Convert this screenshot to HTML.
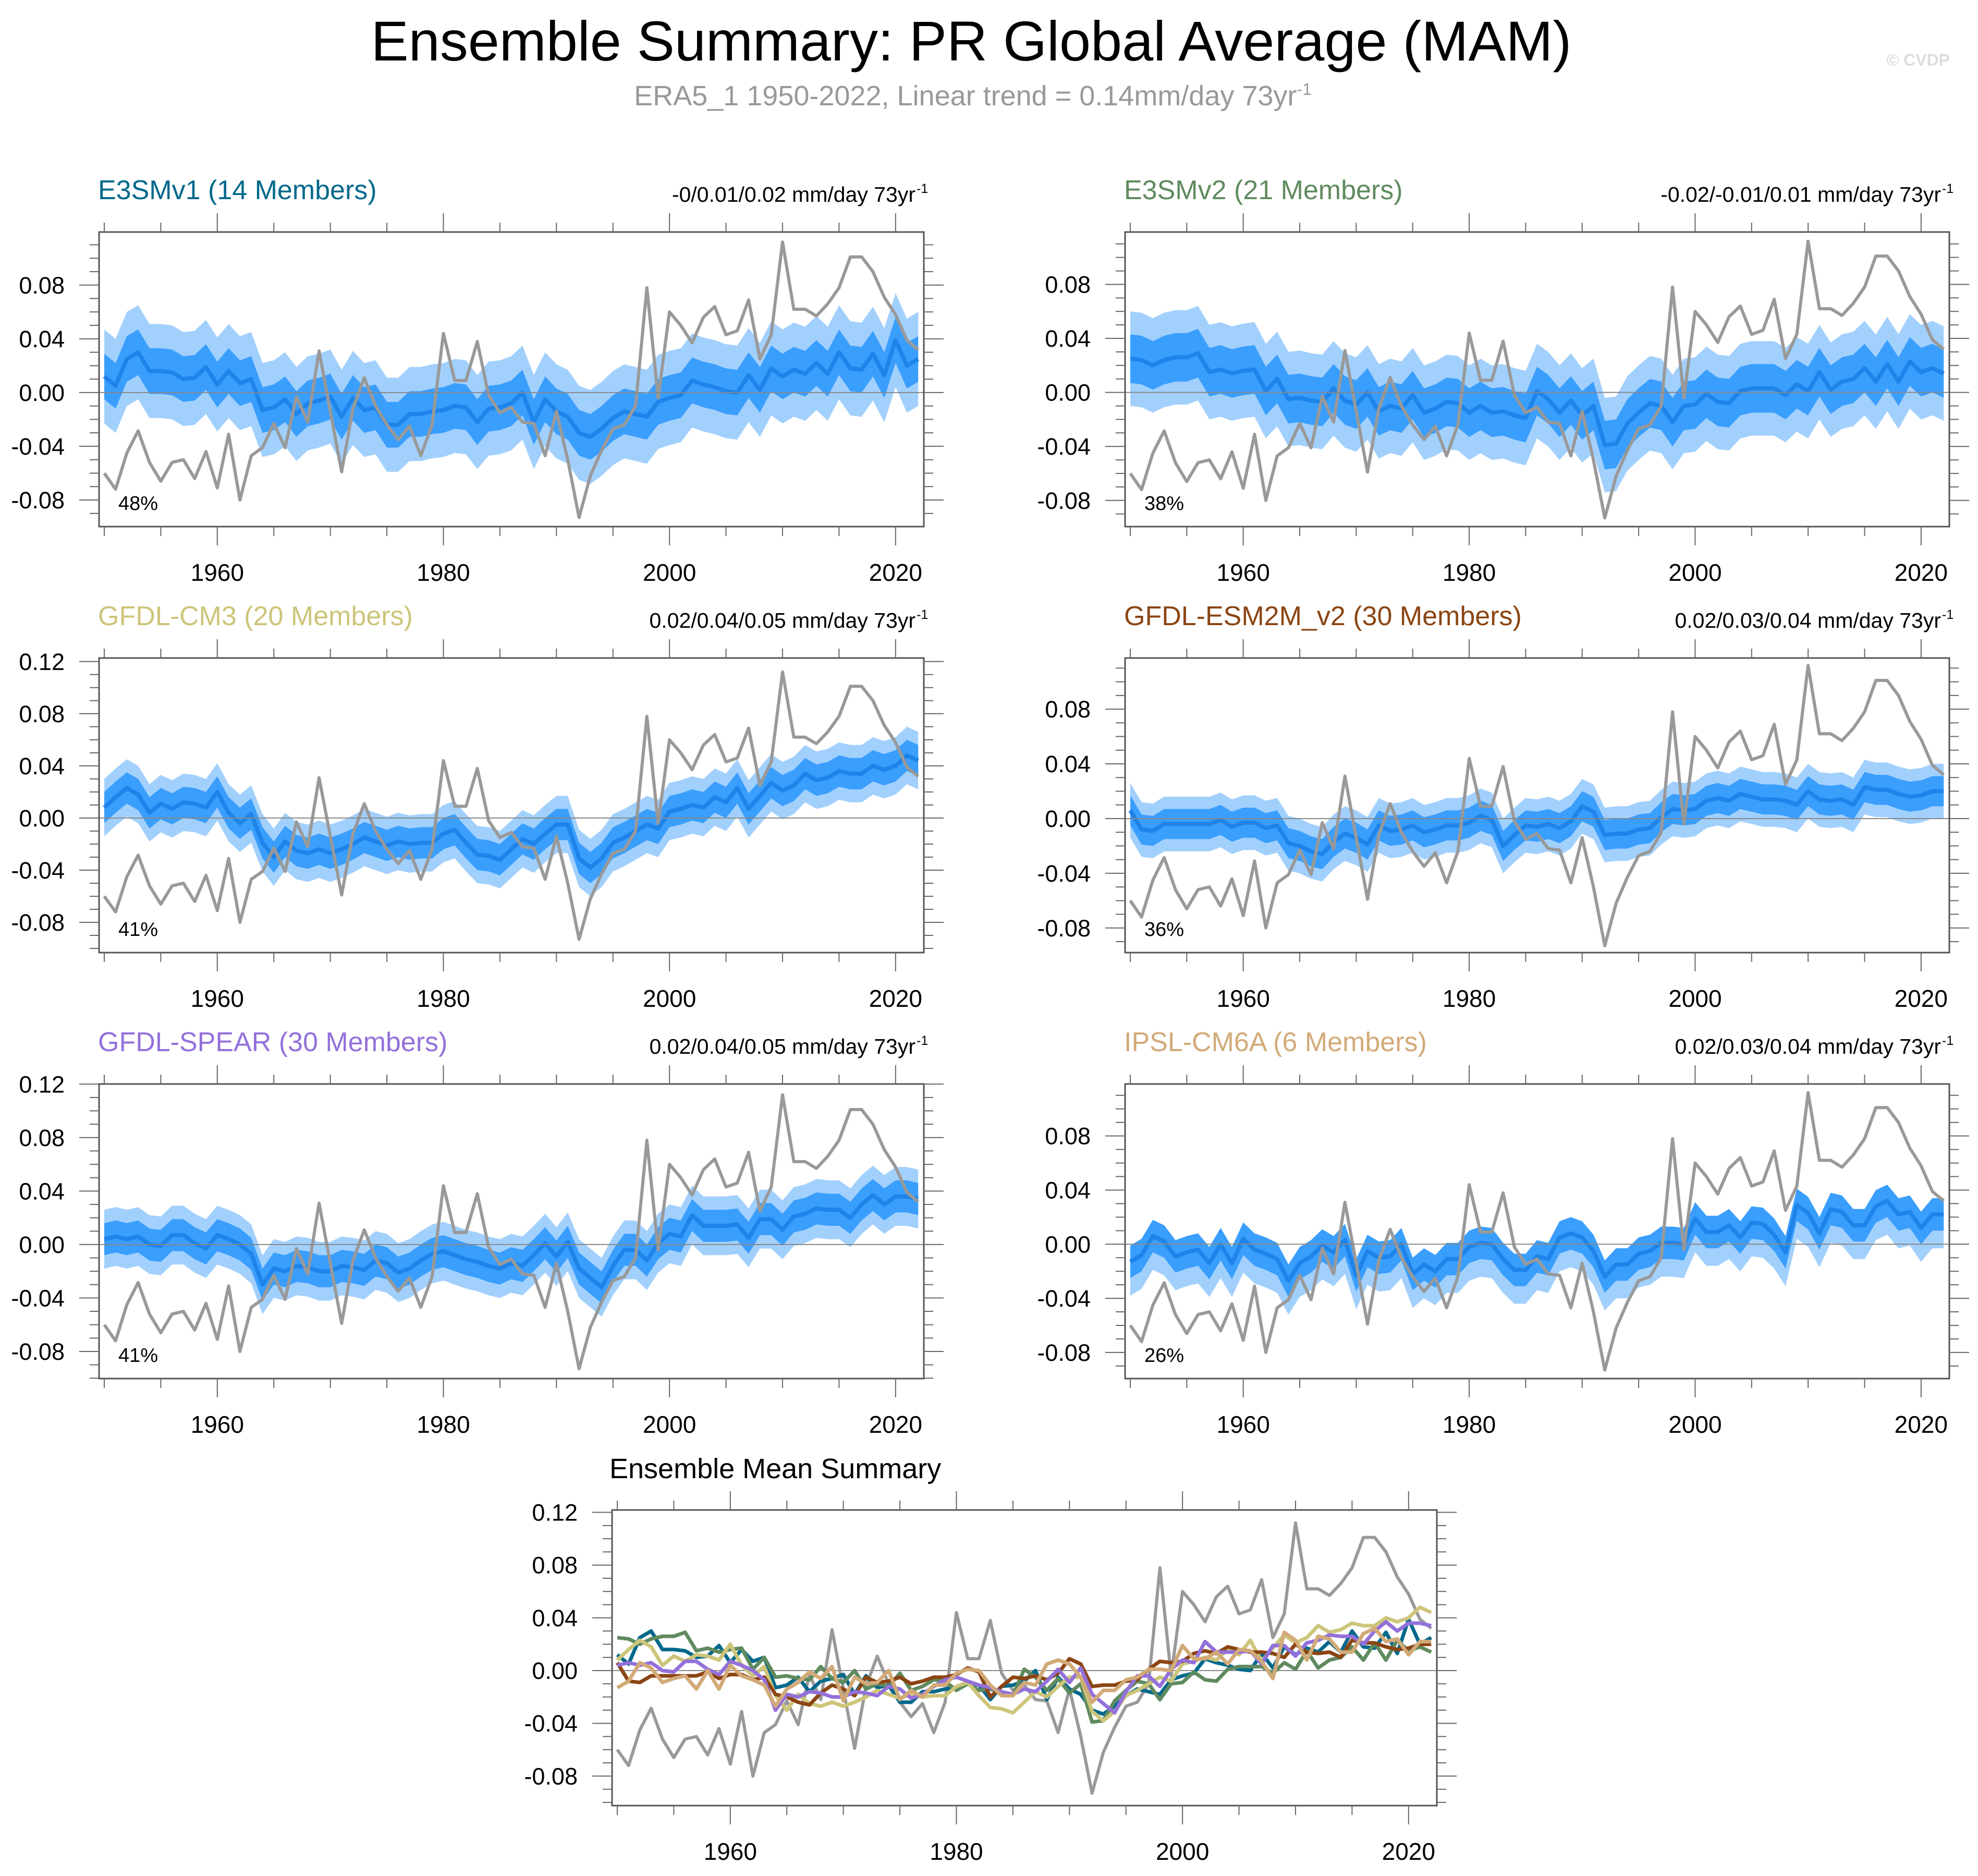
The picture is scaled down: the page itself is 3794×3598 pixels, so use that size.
<!DOCTYPE html>
<html><head><meta charset="utf-8">
<style>
html,body{margin:0;padding:0;background:#fff;}
svg{display:block;font-family:"Liberation Sans",Arial,sans-serif;}
</style></head>
<body>
<svg id="chart" width="3794" height="3598" viewBox="0 0 3794 3598" xmlns="http://www.w3.org/2000/svg">
<rect x="0" y="0" width="3794" height="3598" fill="#fff"/>
<text x="1863" y="116" font-size="108" text-anchor="middle" fill="#000">Ensemble Summary: PR Global Average (MAM)</text>
<text x="1866" y="202" font-size="54" text-anchor="middle" fill="#999">ERA5_1 1950-2022, Linear trend = 0.14mm/day 73yr<tspan dy="-20" font-size="32">-1</tspan></text>
<text x="3740" y="126" font-size="32" text-anchor="end" fill="#ddd" font-weight="bold">© CVDP</text>
</svg>
<script>
const years = [];
for (let y = 1950; y <= 2022; y++) years.push(y);

const obsERA5 = [-0.060,-0.072,-0.045,-0.0285,-0.052,-0.066,-0.052,-0.050,-0.064,-0.044,-0.071,-0.031,-0.080,-0.047,-0.041,-0.023,-0.041,-0.003,-0.022,0.031,-0.014,-0.059,-0.012,0.011,-0.010,-0.024,-0.035,-0.025,-0.047,-0.024,0.044,0.009,0.009,0.038,-0.002,-0.015,-0.011,-0.022,-0.023,-0.047,-0.014,-0.050,-0.093,-0.062,-0.043,-0.027,-0.024,-0.010,0.078,-0.004,0.060,0.050,0.037,0.056,0.064,0.043,0.046,0.069,0.025,0.043,0.112,0.062,0.062,0.057,0.066,0.078,0.101,0.101,0.090,0.071,0.058,0.039,0.032];

const meanE3SMv1 = [0.012,0.005,0.025,0.030,0.016,0.016,0.015,0.010,0.011,0.019,0.006,0.016,0.007,0.010,-0.013,-0.011,-0.005,-0.016,-0.008,-0.006,-0.003,-0.018,-0.004,-0.013,-0.011,-0.024,-0.024,-0.016,-0.016,-0.014,-0.013,-0.010,-0.011,-0.022,-0.012,-0.011,-0.008,0.000,-0.022,-0.005,-0.014,-0.018,-0.030,-0.033,-0.027,-0.019,-0.014,-0.016,-0.018,-0.007,-0.004,-0.002,0.009,0.006,0.004,0.001,0.000,0.013,0.002,0.018,0.012,0.017,0.014,0.022,0.014,0.030,0.018,0.017,0.029,0.013,0.039,0.020,0.025];
const meanE3SMv2 = [0.025,0.024,0.020,0.024,0.026,0.026,0.029,0.015,0.017,0.014,0.016,0.017,0.001,0.010,-0.005,-0.004,-0.006,-0.007,0.003,-0.006,-0.009,0.000,-0.014,-0.010,-0.012,-0.002,-0.015,-0.012,-0.007,-0.008,-0.015,-0.010,-0.015,-0.014,-0.017,-0.019,0.001,-0.005,-0.015,-0.006,-0.017,-0.010,-0.039,-0.038,-0.023,-0.015,-0.008,-0.010,-0.022,-0.010,-0.009,-0.001,-0.007,-0.008,0.001,0.003,0.003,0.003,-0.002,0.006,0.001,0.015,0.002,0.008,0.010,0.018,0.008,0.021,0.008,0.023,0.015,0.018,0.014];
const meanCM3 = [0.008,0.016,0.023,0.018,0.004,0.011,0.007,0.012,0.011,0.008,0.020,0.004,-0.004,0.003,-0.019,-0.030,-0.018,-0.025,-0.027,-0.024,-0.027,-0.024,-0.020,-0.015,-0.018,-0.021,-0.018,-0.020,-0.019,-0.019,-0.012,-0.009,-0.019,-0.028,-0.029,-0.032,-0.024,-0.016,-0.020,-0.012,-0.005,-0.005,-0.031,-0.038,-0.031,-0.019,-0.015,-0.010,-0.005,-0.008,0.005,0.007,0.010,0.008,0.016,0.012,0.023,0.007,0.017,0.027,0.021,0.025,0.034,0.029,0.031,0.036,0.034,0.034,0.040,0.037,0.040,0.048,0.044];
const meanESM2M = [0.006,-0.008,-0.009,-0.004,-0.004,-0.004,-0.004,-0.004,-0.001,-0.006,-0.003,-0.003,-0.007,-0.005,-0.018,-0.020,-0.024,-0.026,-0.017,-0.011,-0.014,-0.019,-0.005,-0.009,-0.008,-0.005,-0.010,-0.008,-0.005,-0.005,-0.003,0.002,-0.001,-0.020,-0.012,-0.005,-0.006,-0.004,-0.007,-0.002,0.009,0.005,-0.012,-0.011,-0.011,-0.008,-0.007,0.001,0.007,0.006,0.007,0.013,0.015,0.013,0.018,0.016,0.014,0.014,0.013,0.010,0.020,0.014,0.013,0.014,0.010,0.023,0.021,0.021,0.018,0.016,0.017,0.020,0.020];
const meanSPEAR = [0.004,0.006,0.004,0.006,0.000,-0.001,0.007,0.007,0.001,-0.003,0.007,0.004,0.000,-0.007,-0.030,-0.018,-0.020,-0.016,-0.017,-0.020,-0.020,-0.016,-0.017,-0.019,-0.012,-0.014,-0.021,-0.018,-0.012,-0.007,-0.005,-0.008,-0.011,-0.013,-0.016,-0.018,-0.014,-0.016,-0.008,0.001,-0.009,0.002,-0.018,-0.025,-0.032,-0.016,-0.004,-0.004,-0.012,0.001,0.008,0.006,0.022,0.014,0.014,0.014,0.015,0.005,0.019,0.019,0.011,0.021,0.023,0.027,0.026,0.026,0.020,0.030,0.037,0.030,0.036,0.036,0.034];
const meanIPSL = [-0.013,-0.008,0.006,0.002,-0.009,-0.006,-0.004,-0.014,0.000,-0.014,0.004,-0.004,-0.007,-0.011,-0.027,-0.014,-0.009,-0.001,-0.006,0.003,-0.023,-0.005,-0.010,-0.009,0.000,-0.022,-0.015,-0.020,-0.011,-0.011,-0.002,0.001,0.000,-0.011,-0.019,-0.019,-0.009,-0.011,0.005,0.008,0.005,-0.005,-0.024,-0.015,-0.015,-0.007,-0.005,0.001,0.001,0.000,0.019,0.009,0.009,0.014,0.005,0.016,0.015,0.007,-0.006,0.029,0.023,0.008,0.026,0.024,0.014,0.014,0.028,0.032,0.022,0.024,0.012,0.022,0.022];

const modelNames = ["E3SMv1 (14 Members)","E3SMv2 (21 Members)","GFDL-CM3 (20 Members)","GFDL-ESM2M_v2 (30 Members)","GFDL-SPEAR (30 Members)","IPSL-CM6A (6 Members)"];
const trendLabels = ["-0/0.01/0.02 mm/day 73yr","-0.02/-0.01/0.01 mm/day 73yr","0.02/0.04/0.05 mm/day 73yr","0.02/0.03/0.04 mm/day 73yr","0.02/0.04/0.05 mm/day 73yr","0.02/0.03/0.04 mm/day 73yr"];
const pctLabels = ["48%","38%","41%","36%","41%","26%"];
const innerSpreadUp = [0.017,0.018,0.012,0.011,0.012,0.012];
const innerSpreadDn = [0.017,0.018,0.012,0.011,0.012,0.012];
const outerSpreadUp = [0.035,0.035,0.022,0.020,0.022,0.012];
const outerSpreadDn = [0.035,0.035,0.022,0.020,0.022,0.025];
const yTickValues = [-0.08,-0.04,0.00,0.04,0.08,0.12];
const xTickYears = [1960,1980,2000,2020];

const means = [meanE3SMv1, meanE3SMv2, meanCM3, meanESM2M, meanSPEAR, meanIPSL];
const modelColors = ["#00688b","#5f8a5f","#cdc57a","#8b4513","#9370db","#d2aa78"];

const NS = "http://www.w3.org/2000/svg";
const svg = document.getElementById("chart");
function mk(tag, parent, attrs) {
  const e = document.createElementNS(NS, tag);
  for (const k in attrs) e.setAttribute(k, attrs[k]);
  parent.appendChild(e);
  return e;
}

const panels = [
  {x0:190, x1:1772, y0:445, y1:1010, ymin:-0.0998, ymax:0.1195},
  {x0:2158, x1:3739, y0:445, y1:1010, ymin:-0.0994, ymax:0.1188},
  {x0:190, x1:1772, y0:1262, y1:1827, ymin:-0.1032, ymax:0.1227},
  {x0:2158, x1:3739, y0:1262, y1:1827, ymin:-0.098, ymax:0.1174},
  {x0:190, x1:1772, y0:2079, y1:2644, ymin:-0.1003, ymax:0.1201},
  {x0:2158, x1:3739, y0:2079, y1:2644, ymin:-0.0993, ymax:0.1184},
  {x0:1174, x1:2756, y0:2896, y1:3463, ymin:-0.1024, ymax:0.1218}
];

function makeAxes(p) {
  const yrMin = 1949.54, yrMax = 2022.5;
  p.sx = v => p.x0 + (v - yrMin) / (yrMax - yrMin) * (p.x1 - p.x0);
  p.sy = v => p.y1 - (v - p.ymin) / (p.ymax - p.ymin) * (p.y1 - p.y0);
}

function drawFrame(p, g) {
  const zl = mk("line", g, {x1:p.x0, x2:p.x1, y1:p.sy(0), y2:p.sy(0), stroke:"#888", "stroke-width":2});
  
  
  const box = mk("rect", g, {x:p.x0, y:p.y0, width:p.x1-p.x0, height:p.y1-p.y0, fill:"none", stroke:"#555", "stroke-width":3});
  
  
  for (let yr = 1950; yr <= 2020; yr += 5) {
    const x = p.sx(yr);
    const major = (yr % 20 === 0);
    const len = major ? 36 : 18;
    const t1 = mk("line", g, {x1:x, x2:x, y1:p.y0, y2:p.y0 - len, stroke:"#666", "stroke-width":2});
    
    
    const t2 = mk("line", g, {x1:x, x2:x, y1:p.y1, y2:p.y1 + len, stroke:"#666", "stroke-width":2});
    
    
  }
  xTickYears.forEach(yr => {
    const t = mk("text", g, {x:p.sx(yr), y:p.y1 + 104, "font-size":46, "text-anchor":"middle", fill:"#000"});
    t.textContent = String(yr);
    
    
  });
  for (let k = -10; k <= 12; k++) {
    const v = k / 100;
    if (v < p.ymin - 1e-6 || v > p.ymax + 0.0001) continue;
    const y = p.sy(v);
    const major = (k % 4 === 0);
    const len = major ? 38 : 18;
    const a = mk("line", g, {x1:p.x0 - len, x2:p.x0, y1:y, y2:y, stroke:"#666", "stroke-width":2});
    
    
    const b = mk("line", g, {x1:p.x1, x2:p.x1 + len, y1:y, y2:y, stroke:"#666", "stroke-width":2});
    
    
  }
  yTickValues.forEach(v => {
    if (v < p.ymin - 1e-6 || v > p.ymax + 0.0001) return;
    const t = mk("text", g, {x:p.x0 - 66, y:p.sy(v) + 16, "font-size":45, "text-anchor":"end", fill:"#000"});
    t.textContent = v.toFixed(2);
    
    
  });
}

function linePath(p, vals) {
  return vals.map((v, i) => (i ? "L" : "M") + p.sx(years[i]).toFixed(1) + "," + p.sy(v).toFixed(1)).join(" ");
}
function bandPath(p, vals, up, dn) {
  const top = vals.map((v, i) => p.sx(years[i]).toFixed(1) + "," + p.sy(v + up).toFixed(1));
  const bot = vals.map((v, i) => p.sx(years[i]).toFixed(1) + "," + p.sy(v - dn).toFixed(1)).reverse();
  return "M" + top.join(" L") + " L" + bot.join(" L") + " Z";
}

for (let i = 0; i < 6; i++) {
  const p = panels[i];
  makeAxes(p);
  const g = mk("g", svg, {});
  
  
  const clipId = "clip" + i;
  const cp = mk("clipPath", g, {id:clipId});
  mk("rect", cp, {x:p.x0, y:p.y0, width:p.x1-p.x0, height:p.y1-p.y0});
  const data = mk("g", g, {"clip-path":"url(#" + clipId + ")"});
  const outer = mk("path", data, {d:bandPath(p, means[i], outerSpreadUp[i], outerSpreadDn[i]), fill:"#a2d0fd", stroke:"none"});
  
  
  const inner = mk("path", data, {d:bandPath(p, means[i], innerSpreadUp[i], innerSpreadDn[i]), fill:"#3a9efd", stroke:"none"});
  
  
  drawFrame(p, g);
  const ml = mk("path", data, {d:linePath(p, means[i]), fill:"none", stroke:"#1e84ea", "stroke-width":8, "stroke-linejoin":"round"});
  
  
  const ol = mk("path", data, {d:linePath(p, obsERA5), fill:"none", stroke:"#999", "stroke-width":6, "stroke-linejoin":"round"});
  
  
  const tt = mk("text", g, {x:p.x0 - 2, y:p.y0 - 63, "font-size":52, fill:modelColors[i]});
  tt.textContent = modelNames[i];
  
  
  const tr = mk("text", g, {x:p.x1 - 16, y:p.y0 - 58, "font-size":41, "text-anchor":"end", fill:"#000"});
  tr.textContent = trendLabels[i];
  
  
  const sup = mk("text", g, {x:p.x1 - 14, y:p.y0 - 75, "font-size":25, "text-anchor":"start", fill:"#000"});
  sup.textContent = "-1";
  
  
  const pc = mk("text", g, {x:p.x0 + 37, y:p.y1 - 32, "font-size":38, fill:"#000"});
  pc.textContent = pctLabels[i];
  
  
}

{
  const p = panels[6];
  makeAxes(p);
  const g = mk("g", svg, {});
  
  
  const cp = mk("clipPath", g, {id:"clip6"});
  mk("rect", cp, {x:p.x0, y:p.y0, width:p.x1-p.x0, height:p.y1-p.y0});
  drawFrame(p, g);
  const data = mk("g", g, {"clip-path":"url(#clip6)"});
  const ol = mk("path", data, {d:linePath(p, obsERA5), fill:"none", stroke:"#999", "stroke-width":6, "stroke-linejoin":"round"});
  
  
  for (let i = 0; i < 6; i++) {
    const l = mk("path", data, {d:linePath(p, means[i]), fill:"none", stroke:modelColors[i], "stroke-width":7, "stroke-linejoin":"round"});
    
    
  }
  const tt = mk("text", g, {x:1169, y:2835, "font-size":54, fill:"#000"});
  tt.textContent = "Ensemble Mean Summary";
  
  
}
</script>
</body></html>
